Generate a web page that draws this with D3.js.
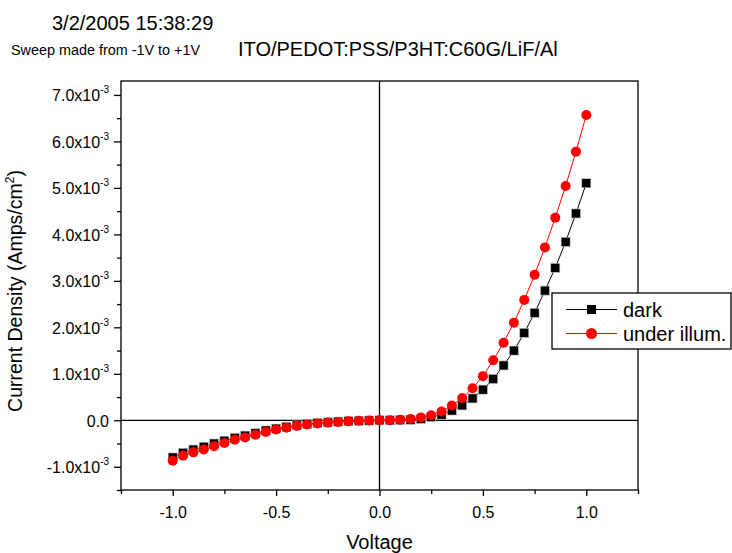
<!DOCTYPE html>
<html><head><meta charset="utf-8">
<script src="https://cdn.jsdelivr.net/npm/d3@7"></script>
<style>
body{margin:0;background:#fff;}
text{font-family:"Liberation Sans",Arial,sans-serif;fill:#000;}
</style></head>
<body><svg id="c" width="732" height="553"></svg>
<script>
const voltage = [-1.0,-0.95,-0.9,-0.85,-0.8,-0.75,-0.7,-0.65,-0.6,-0.55,-0.5,-0.45,-0.4,-0.35,-0.3,-0.25,-0.2,-0.15,-0.1,-0.05,0.0,
  0.05,0.1,0.15,0.2,0.25,0.3,0.35,0.4,0.45,0.5,0.55,0.6,0.65,0.7,0.75,0.8,0.85,0.9,0.95,1.0];
// current density in units of 1e-3 A/cm^2
const dark = [-0.80,-0.70,-0.63,-0.57,-0.50,-0.44,-0.38,-0.33,-0.28,-0.22,-0.18,-0.14,-0.11,-0.08,-0.06,-0.045,-0.03,-0.02,-0.01,-0.005,0.0,
  0.0,0.005,0.01,0.03,0.07,0.12,0.21,0.32,0.47,0.66,0.89,1.18,1.50,1.88,2.31,2.79,3.28,3.84,4.45,5.10];
const illum = [-0.87,-0.76,-0.69,-0.63,-0.56,-0.49,-0.42,-0.37,-0.31,-0.25,-0.20,-0.16,-0.12,-0.09,-0.07,-0.05,-0.035,-0.02,-0.01,-0.005,0.0,
  0.003,0.01,0.03,0.06,0.11,0.19,0.32,0.48,0.69,0.95,1.29,1.67,2.10,2.59,3.13,3.72,4.36,5.04,5.78,6.57];
const xMajor = [-1.0,-0.5,0.0,0.5,1.0];
const xMinor = [-1.25,-0.75,-0.25,0.25,0.75,1.25];
const yMajor = [-1,0,1,2,3,4,5,6,7];
const yMinor = [-1.5,-0.5,0.5,1.5,2.5,3.5,4.5,5.5,6.5];
const seriesNames = ["dark","under illum."];

const svg = d3.select("#c");
const L=121,R=638,T=81,B=490;
const x = d3.scaleLinear().domain([-1.25,1.25]).range([L,R]);
const y = d3.scaleLinear().domain([-1.5,7.3]).range([B,T]);

// frame
svg.append("rect").attr("x",L).attr("y",T).attr("width",R-L).attr("height",B-T)
  .attr("fill","none").attr("stroke","#000").attr("stroke-width",1.3);
// zero lines
svg.append("line").attr("x1",L).attr("x2",R).attr("y1",y(0)).attr("y2",y(0)).attr("stroke","#000").attr("stroke-width",1.3);
svg.append("line").attr("x1",x(0)).attr("x2",x(0)).attr("y1",T).attr("y2",B).attr("stroke","#000").attr("stroke-width",1.3);

// x axis
const gx = svg.append("g").attr("transform",`translate(0,${B})`);
gx.call(d3.axisBottom(x).tickValues(xMajor).tickSize(6).tickSizeOuter(0).tickFormat(d=>d.toFixed(1)));
gx.append("g").call(d3.axisBottom(x).tickValues(xMinor).tickSize(4).tickSizeOuter(0).tickFormat(""));
gx.selectAll(".domain").remove();
gx.selectAll("line").attr("stroke-width",1.3);
gx.selectAll("text").attr("font-size",16).attr("y",28).attr("dy",0).attr("font-family","Liberation Sans, Arial");

// y axis
const gy = svg.append("g").attr("transform",`translate(${L},0)`);
gy.call(d3.axisLeft(y).tickValues(yMajor).tickSize(7).tickSizeOuter(0).tickFormat(""));
gy.append("g").call(d3.axisLeft(y).tickValues(yMinor).tickSize(4).tickSizeOuter(0).tickFormat(""));
gy.selectAll(".domain").remove();
gy.selectAll("line").attr("stroke-width",1.3);
yMajor.forEach(v=>{
  const t = svg.append("text").attr("x",109).attr("y",y(v)+6.5).attr("text-anchor","end").attr("font-size",16);
  if(v===0){ t.text("0.0"); }
  else {
    t.append("tspan").text(v.toFixed(1)+"x10");
    t.append("tspan").attr("font-size",10).attr("dy",-8).text("-3");
  }
});

// series
const line = d3.line().x((d,i)=>x(voltage[i])).y(d=>y(d));
svg.append("path").datum(dark).attr("d",line).attr("fill","none").attr("stroke","#000").attr("stroke-width",1);
svg.append("g").selectAll("rect").data(dark).join("rect")
  .attr("x",(d,i)=>x(voltage[i])-4.5).attr("y",d=>y(d)-4.5).attr("width",9).attr("height",9)
  .attr("fill","#000").attr("stroke","#bbb").attr("stroke-width",0.6);
svg.append("path").datum(illum).attr("d",line).attr("fill","none").attr("stroke","#f00").attr("stroke-width",1);
svg.append("g").selectAll("circle").data(illum).join("circle")
  .attr("cx",(d,i)=>x(voltage[i])).attr("cy",d=>y(d)).attr("r",5)
  .attr("fill","#f00");

// legend
const lg = svg.append("g");
lg.append("rect").attr("x",552).attr("y",293).attr("width",179).attr("height",56)
  .attr("fill","#fff").attr("stroke","#000").attr("stroke-width",1.3);
const rows=[309.5,333.5];
lg.append("line").attr("x1",566).attr("x2",617).attr("y1",rows[0]).attr("y2",rows[0]).attr("stroke","#000");
lg.append("rect").attr("x",587).attr("y",rows[0]-4.5).attr("width",9).attr("height",9).attr("fill","#000");
lg.append("line").attr("x1",566).attr("x2",617).attr("y1",rows[1]).attr("y2",rows[1]).attr("stroke","#f00");
lg.append("circle").attr("cx",591.5).attr("cy",rows[1]).attr("r",5.5).attr("fill","#f00");
seriesNames.forEach((n,i)=>lg.append("text").attr("x",623).attr("y",rows[i]+7).attr("font-size",20).text(n));

// titles
svg.append("text").attr("x",52).attr("y",30).attr("font-size",20).text("3/2/2005 15:38:29");
svg.append("text").attr("x",11).attr("y",55).attr("font-size",14).attr("textLength",189).attr("lengthAdjust","spacingAndGlyphs").text("Sweep made from -1V to +1V");
svg.append("text").attr("x",238).attr("y",56).attr("font-size",20).text("ITO/PEDOT:PSS/P3HT:C60G/LiF/Al");
svg.append("text").attr("x",(L+R)/2).attr("y",549).attr("text-anchor","middle").attr("font-size",20).text("Voltage");
const yl = svg.append("text").attr("transform",`translate(22,291) rotate(-90)`).attr("text-anchor","middle").attr("font-size",19.5);
yl.append("tspan").text("Current Density (Amps/cm");
yl.append("tspan").attr("font-size",12).attr("dy",-8).text("2");
yl.append("tspan").attr("dy",8).text(")");
</script></body></html>
